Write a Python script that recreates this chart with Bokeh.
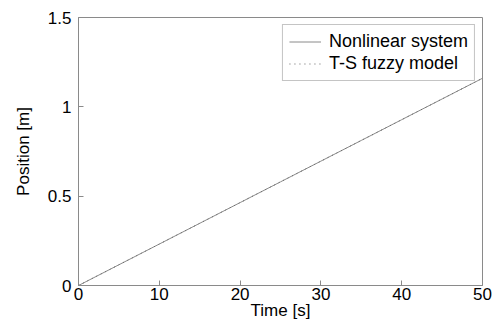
from bokeh.plotting import figure
from bokeh.models import FixedTicker, Range1d, Legend, LegendItem
from bokeh.embed import file_html
from bokeh.resources import INLINE

# Simulated cart position over time
time_s = [0, 5, 10, 15, 20, 25, 30, 35, 40, 45, 50]
pos_nonlinear = [0.0, 0.116, 0.232, 0.348, 0.464, 0.580, 0.696, 0.812, 0.928, 1.044, 1.160]
pos_fuzzy = [0.0, 0.116, 0.232, 0.348, 0.464, 0.580, 0.696, 0.812, 0.928, 1.044, 1.160]

x_ticks = [0, 10, 20, 30, 40, 50]
y_ticks = [0, 0.5, 1, 1.5]
y_tick_labels = ["0", "0.5", "1", "1.5"]

FONT = "Liberation Sans"
GREY = "#8a8a8a"

p = figure(width=496, height=331, output_backend="svg", toolbar_location=None,
           x_range=Range1d(0, 50), y_range=Range1d(0, 1.5))
p.min_border_left = 78
p.min_border_right = 14
p.min_border_top = 17
p.min_border_bottom = 46
p.background_fill_color = "white"
p.border_fill_color = "white"
p.outline_line_color = GREY
p.outline_line_width = 1
p.xgrid.visible = False
p.ygrid.visible = False

r1 = p.line(time_s, pos_nonlinear, line_color=GREY, line_width=1)
r2 = p.line(time_s, pos_fuzzy, line_color="#666666", line_width=1, line_dash="1 4")

for ax in (p.xaxis[0], p.yaxis[0]):
    ax.axis_line_color = GREY
    ax.major_tick_line_color = GREY
    ax.major_tick_in = 5
    ax.major_tick_out = 0
    ax.minor_tick_line_color = None
    ax.major_label_text_font = FONT
    ax.major_label_text_font_size = "17px"
    ax.major_label_text_color = "black"
    ax.axis_label_text_font = FONT
    ax.axis_label_text_font_size = "17px"
    ax.axis_label_text_font_style = "normal"
    ax.axis_label_text_color = "black"

p.xaxis[0].ticker = FixedTicker(ticks=x_ticks)
p.yaxis[0].ticker = FixedTicker(ticks=y_ticks)
p.yaxis[0].major_label_overrides = {t: s for t, s in zip(y_ticks, y_tick_labels)}
p.xaxis[0].major_label_standoff = 2
p.yaxis[0].major_label_standoff = 7
p.xaxis[0].axis_label = "Time [s]"
p.yaxis[0].axis_label = "Position [m]"
p.xaxis[0].axis_label_standoff = -2
p.yaxis[0].axis_label_standoff = 12

legend = Legend(items=[LegendItem(label="Nonlinear system", renderers=[r1]),
                       LegendItem(label="T-S fuzzy model", renderers=[r2])],
                location="top_right")
legend.margin = 7
legend.padding = 6
legend.spacing = 1
legend.glyph_width = 32
legend.glyph_height = 21
legend.label_height = 21
legend.label_standoff = 8
legend.label_text_font = FONT
legend.label_text_font_size = "18px"
legend.label_text_color = "black"
legend.border_line_color = GREY
legend.border_line_width = 1
legend.background_fill_color = "white"
legend.background_fill_alpha = 1
p.add_layout(legend)

open("out.html", "w").write(file_html(p, INLINE))
